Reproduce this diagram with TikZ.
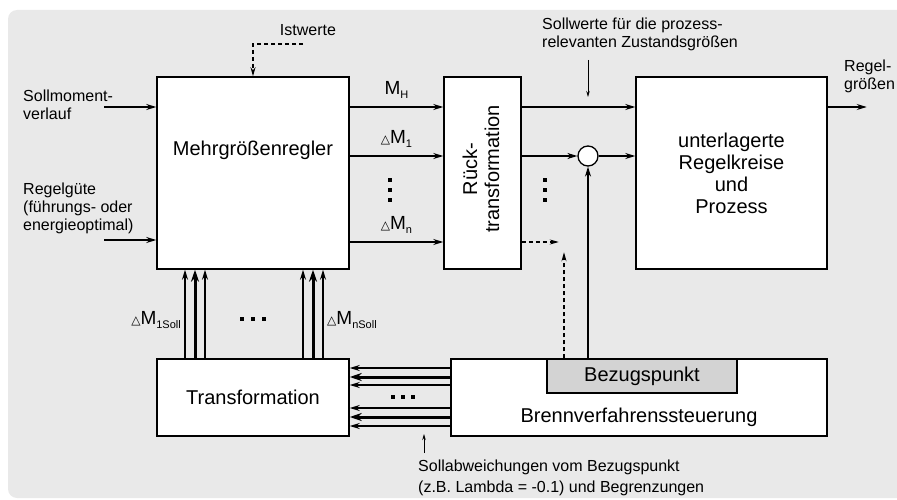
\documentclass[tikz,border=0pt]{standalone}
\usepackage{fontspec}
\setmainfont{Liberation Sans}
\newfontfamily\trifont{DejaVu Sans}
\usetikzlibrary{arrows.meta,calc,positioning}
\definecolor{PanelGray}{RGB}{233,233,233}
\definecolor{RefGray}{RGB}{211,211,211}
\newcommand{\dtri}{{\trifont\bfseries\fontsize{12}{12}\selectfont △}}
\newcommand{\sigsub}[1]{\raisebox{-4pt}{\fontsize{11}{11}\selectfont #1}}
\tikzset{
  flow/.style={-{Stealth[length=10pt,width=6pt]},line width=1.3pt},
  thickflow/.style={-{Stealth[length=12pt,width=8pt]},line width=3pt},
  dashflow/.style={-{Stealth[length=9pt,width=5pt]},line width=1.2pt,dash pattern=on 4pt off 3pt},
  thinflow/.style={-{Stealth[length=6pt,width=3.5pt]},line width=0.8pt},
  box/.style={draw,fill=white,line width=1.5pt,inner sep=0pt},
  bigtxt/.style={font=\fontsize{20}{22}\selectfont,align=center},
  smalltxt/.style={font=\fontsize{16}{18}\selectfont,align=left,inner sep=0pt},
  sigtxt/.style={font=\fontsize{19}{20}\selectfont,inner sep=0pt}
}
\begin{document}
\begin{tikzpicture}[x=1pt,y=1pt]
  \useasboundingbox (0,0) rectangle (897,499);
  \fill[PanelGray,rounded corners=9pt] (8,1) rectangle (920,489);
  % Bloecke
  \node[box,minimum width=192pt,minimum height=192pt] (reg) at (253,326) {};
  \node[bigtxt] (regtxt) at (253,349) {Mehrgrößenregler};
  \node[box,minimum width=77pt,minimum height=192pt] (rueck) at (482.5,326) {};
  \node[bigtxt,rotate=90] (ruecktxt) at (481,330) {Rück-\\transformation};
  \node[box,bigtxt,minimum width=191pt,minimum height=192pt] (proc) at (731.5,326) {unterlagerte\\Regelkreise\\und\\Prozess};
  \node[box,bigtxt,minimum width=192pt,minimum height=77pt] (trans) at (253,101.5) {Transformation};
  \node[box,minimum width=376pt,minimum height=77pt] (brenn) at (639,101.5) {};
  \node[bigtxt] (brenntxt) at (639,82) {Brennverfahrenssteuerung};
  \node[box,bigtxt,fill=RefGray,minimum width=190pt,minimum height=34pt,anchor=north] (bezug) at (642,140.75) {Bezugspunkt};
  \node[circle,draw,fill=white,line width=1.3pt,minimum size=20pt,inner sep=0pt] (sum) at (588,343) {};
  % Eingaenge
  \node[smalltxt,anchor=west] (smv) at (23,394) {Sollmoment-\\verlauf};
  \node[smalltxt,anchor=west] (rgq) at (23,291) {Regelgüte\\(führungs- oder\\energieoptimal)};
  \coordinate (smin) at (104,392);
  \coordinate (rgin) at (104,259);
  \draw[flow] (smin) -- (smin -| reg.west);
  \draw[flow] (rgin) -- (rgin -| reg.west);
  \node[smalltxt] (ist) at (308,469) {Istwerte};
  \coordinate (istin) at (303,455);
  \draw[dashflow] (istin) -| (reg.north);
  % Stellgroessen
  \draw[flow] ([yshift=66pt]reg.east) -- node[sigtxt,above=8pt] {M\sigsub{H}} ([yshift=66pt]rueck.west);
  \draw[flow] ([yshift=17pt]reg.east) -- node[sigtxt,above=8pt] {\dtri M\sigsub{1}} ([yshift=17pt]rueck.west);
  \draw[flow] ([yshift=-69pt]reg.east) -- node[sigtxt,above=8pt] {\dtri M\sigsub{n}} ([yshift=-69pt]rueck.west);
  \foreach \y in {319,309,299} {
    \fill[shift={(390,\y)}] (-1.8,-1.8) rectangle (1.8,1.8);
    \fill[shift={(545,\y)}] (-1.8,-1.8) rectangle (1.8,1.8);
  }
  % rechte Seite
  \draw[flow] ([yshift=66pt]rueck.east) -- ([yshift=66pt]proc.west);
  \draw[flow] ([yshift=17pt]rueck.east) -- (sum.west);
  \draw[flow] (sum.east) -- ([yshift=17pt]proc.west);
  \draw[flow] (bezug.north -| sum) -- (sum.south);
  \draw[dashflow] ([yshift=-69pt]rueck.east) -- ++(37,0);
  \draw[dashflow] (bezug.north -| 564,0) -- ++(0,106);
  \node[smalltxt,anchor=west] (sollw) at (542,465) {Sollwerte für die prozess-\\relevanten Zustandsgrößen};
  \coordinate (sollin) at (588,439);
  \draw[thinflow] (sollin) -- ++(0,-37);
  \draw[flow] ([yshift=66pt]proc.east) -- ++(39,0);
  \node[smalltxt,anchor=west] (rgout) at (844,423) {Regel-\\größen};
  % Transformation -> Regler
  \foreach \x in {185,205,303,323}
    \draw[flow] (trans.north -| \x,0) -- (reg.south -| \x,0);
  \foreach \x in {195,313}
    \draw[thickflow] (trans.north -| \x,0) -- (reg.south -| \x,0);
  \node[sigtxt,anchor=east] (m1soll) at (181,179) {\dtri M\sigsub{1Soll}};
  \node[sigtxt,anchor=west] (mnsoll) at (327,179) {\dtri M\sigsub{nSoll}};
  \foreach \x in {242,253,264}
    \fill[shift={(\x,180)}] (-1.8,-1.8) rectangle (1.8,1.8);
  % Brennverfahren -> Transformation
  \foreach \y in {131,114,91,73}
    \draw[flow] (brenn.west |- 0,\y) -- (trans.east |- 0,\y);
  \foreach \y in {122,82}
    \draw[thickflow] (brenn.west |- 0,\y) -- (trans.east |- 0,\y);
  \foreach \x in {393,403,413}
    \fill[shift={(\x,102)}] (-1.8,-1.8) rectangle (1.8,1.8);
  \coordinate (abwin) at (424,46);
  \draw[thinflow] (abwin) -- ++(0,19);
  \node[smalltxt,anchor=west,font=\fontsize{16}{21}\selectfont] (abw) at (418,21.5) {Sollabweichungen vom Bezugspunkt\\(z.B. Lambda = -0.1) und Begrenzungen};
\end{tikzpicture}
\end{document}
